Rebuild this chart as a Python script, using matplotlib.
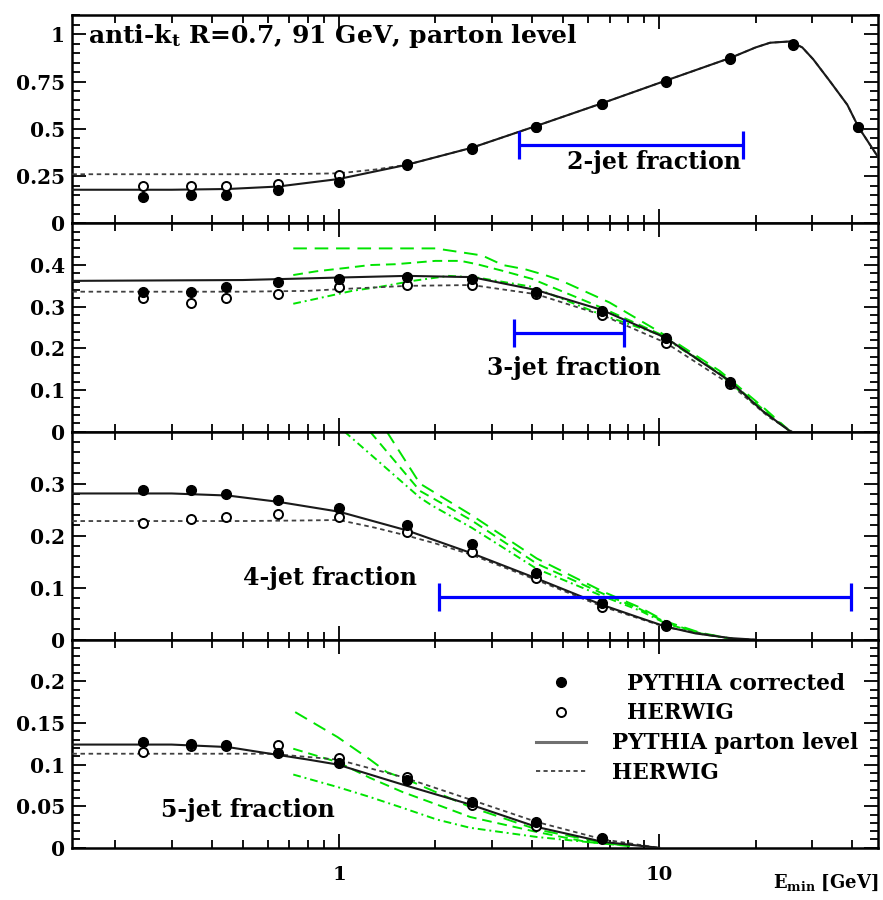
import matplotlib
matplotlib.use('Agg')
import matplotlib.pyplot as plt
from matplotlib.lines import Line2D
from matplotlib.ticker import MultipleLocator, FixedLocator, FuncFormatter, LogLocator, NullFormatter
import numpy as np

plt.rcParams['font.family'] = ['DejaVu Serif']
plt.rcParams['font.weight'] = 'bold'
plt.rcParams['mathtext.fontset'] = 'dejavuserif'
plt.rcParams['mathtext.default'] = 'bf'

# E_min values of the hadron-level points
e_pts = [0.245, 0.345, 0.445, 0.645, 1.0, 1.63, 2.6, 4.13, 6.63, 10.5, 16.7, 26.2, 41.9]

# 2-jet fraction
pyt2 = [0.14, 0.148, 0.15, 0.175, 0.218, 0.308, 0.394, 0.51, 0.63, 0.75, 0.87, 0.945, 0.51]
her2 = [0.197, 0.197, 0.197, 0.21, 0.255, 0.312, 0.397, 0.512, 0.632, 0.752, 0.872, 0.947, 0.51]
e_sol2 = [0.147, 0.3, 0.45, 0.645, 1.0, 1.63, 2.6, 4.13, 6.63, 10.5, 16.7, 20.0, 22.2, 25.7, 28.0, 30.3, 34.2, 38.7, 41.9, 48.3]
sol2 = [0.178, 0.178, 0.182, 0.195, 0.235, 0.31, 0.40, 0.515, 0.635, 0.755, 0.875, 0.93, 0.955, 0.962, 0.93, 0.867, 0.75, 0.627, 0.51, 0.35]
e_das2 = [0.147, 0.5, 0.8, 1.0, 1.3, 1.63, 2.6, 4.13, 6.63, 10.5, 16.7, 20.0, 22.2, 25.7, 28.0, 30.3, 34.2, 38.7, 41.9, 48.3]
das2 = [0.26, 0.26, 0.262, 0.265, 0.285, 0.31, 0.40, 0.515, 0.635, 0.755, 0.875, 0.93, 0.955, 0.962, 0.93, 0.867, 0.75, 0.627, 0.51, 0.35]

# 3-jet fraction
pyt3 = [0.336, 0.336, 0.348, 0.36, 0.367, 0.371, 0.367, 0.336, 0.29, 0.224, 0.119]
her3 = [0.321, 0.309, 0.321, 0.331, 0.348, 0.352, 0.352, 0.33, 0.28, 0.212, 0.115]
e_sol3 = [0.147, 0.5, 0.8, 1.0, 1.63, 2.6, 4.13, 6.63, 10.5, 16.7, 21.0, 25.7]
sol3 = [0.362, 0.364, 0.368, 0.370, 0.374, 0.371, 0.340, 0.292, 0.225, 0.12, 0.05, 0.0]
e_das3 = [0.147, 0.5, 0.8, 1.0, 1.63, 2.6, 4.13, 6.63, 10.5, 16.7, 22.0, 26.0]
das3 = [0.336, 0.336, 0.338, 0.342, 0.350, 0.352, 0.33, 0.28, 0.213, 0.113, 0.035, 0.0]
e_nlo3_hi = [0.72, 1.63, 2.0, 2.3, 2.8, 3.25, 3.81, 4.4, 4.9, 7.0, 10.0, 15.5, 21.0, 25.7]
nlo3_hi = [0.44, 0.44, 0.44, 0.433, 0.423, 0.40, 0.39, 0.376, 0.364, 0.31, 0.24, 0.145, 0.06, 0.0]
e_nlo3_mid = [0.72, 0.85, 1.05, 1.25, 1.5, 2.0, 2.4, 2.7, 3.25, 4.0, 6.5, 10.0, 15.5, 21.0, 25.7]
nlo3_mid = [0.376, 0.385, 0.393, 0.40, 0.402, 0.41, 0.41, 0.402, 0.386, 0.367, 0.30, 0.235, 0.14, 0.055, 0.0]
e_nlo3_lo = [0.72, 0.85, 1.1, 1.35, 1.7, 2.2, 2.7, 4.0, 6.5, 10.0, 15.5, 21.0, 25.7]
nlo3_lo = [0.307, 0.319, 0.338, 0.348, 0.362, 0.374, 0.37, 0.348, 0.283, 0.233, 0.138, 0.05, 0.0]

# 4-jet fraction
pyt4 = [0.288, 0.288, 0.28, 0.269, 0.254, 0.221, 0.183, 0.128, 0.071, 0.029]
her4 = [0.225, 0.231, 0.235, 0.242, 0.235, 0.206, 0.168, 0.118, 0.063, 0.027]
e_sol4 = [0.147, 0.3, 0.45, 0.645, 1.0, 1.63, 2.6, 4.13, 6.63, 8.7, 10.5, 13.0, 16.7, 20.0]
sol4 = [0.281, 0.281, 0.277, 0.265, 0.246, 0.21, 0.166, 0.118, 0.067, 0.042, 0.025, 0.012, 0.003, 0.0]
e_das4 = [0.147, 0.5, 0.75, 1.0, 1.3, 1.63, 2.0, 2.6, 4.13, 6.63, 10.5, 16.7, 20.0]
das4 = [0.228, 0.228, 0.229, 0.23, 0.215, 0.2, 0.185, 0.163, 0.115, 0.064, 0.024, 0.002, 0.0]
e_nlo4_hi = [1.41, 1.79, 1.95, 2.6, 4.15, 6.7, 8.7, 10.5, 13.5, 17.5]
nlo4_hi = [0.40, 0.30, 0.286, 0.239, 0.156, 0.092, 0.062, 0.035, 0.013, 0.0]
e_nlo4_mid = [1.25, 1.79, 1.95, 2.6, 4.15, 6.7, 8.7, 10.5, 13.5, 17.5]
nlo4_mid = [0.40, 0.286, 0.273, 0.229, 0.146, 0.088, 0.059, 0.033, 0.012, 0.0]
e_nlo4_lo = [1.04, 1.79, 1.95, 2.6, 4.15, 6.7, 8.7, 10.5, 13.5, 17.5]
nlo4_lo = [0.40, 0.273, 0.258, 0.215, 0.136, 0.083, 0.056, 0.031, 0.011, 0.0]

# 5-jet fraction
pyt5 = [0.127, 0.125, 0.123, 0.114, 0.102, 0.082, 0.055, 0.031, 0.012]
her5 = [0.115, 0.122, 0.122, 0.124, 0.108, 0.085, 0.052, 0.026, 0.01]
e_sol5 = [0.147, 0.3, 0.45, 0.61, 0.8, 0.99, 1.58, 2.57, 4.15, 6.7, 10.0]
sol5 = [0.124, 0.124, 0.121, 0.113, 0.106, 0.10, 0.076, 0.052, 0.025, 0.007, 0.0]
e_das5 = [0.147, 0.45, 0.61, 0.99, 1.58, 2.57, 4.15, 6.7, 10.0]
das5 = [0.113, 0.113, 0.113, 0.106, 0.085, 0.058, 0.031, 0.01, 0.0]
e_nlo5_hi = [0.73, 0.99, 1.25, 1.41, 1.63, 2.57, 4.15, 6.7, 8.1]
nlo5_hi = [0.163, 0.133, 0.106, 0.091, 0.082, 0.049, 0.022, 0.006, 0.002]
e_nlo5_mid = [0.72, 0.99, 1.25, 1.58, 2.02, 2.57, 4.15, 5.95, 8.1]
nlo5_mid = [0.119, 0.103, 0.084, 0.067, 0.052, 0.037, 0.019, 0.007, 0.002]
e_nlo5_lo = [0.72, 0.99, 1.25, 1.58, 2.02, 2.57, 4.15, 5.95, 8.1]
nlo5_lo = [0.088, 0.073, 0.061, 0.048, 0.034, 0.024, 0.013, 0.007, 0.003]

# blue horizontal bars: (low E, high E, height)
bar2 = (3.65, 18.3, 0.415)
bar3 = (3.52, 7.78, 0.236)
bar4 = (2.05, 39.8, 0.082)

# y tick values per panel
yt2 = [0, 0.25, 0.5, 0.75, 1]
yt3 = [0, 0.1, 0.2, 0.3, 0.4]
yt4 = [0, 0.1, 0.2, 0.3]
yt5 = [0, 0.05, 0.1, 0.15, 0.2]

xmin, xmax = 0.1466, 48.3
GREEN = '#00e400'
LINE = '#1a1a1a'

fig, axes = plt.subplots(4, 1, figsize=(8.83, 9.0), dpi=100, sharex=True)
plt.subplots_adjust(left=0.0815, right=0.9945, top=0.983, bottom=0.058, hspace=0)

panels = [
    dict(pyt=pyt2, her=her2, sol=(e_sol2, sol2), das=(e_das2, das2), nlo=None, yt=yt2,
         ylim=1.1, minor=0.05, bar=bar2, name='2-jet fraction', lab=(9.6, 0.324)),
    dict(pyt=pyt3, her=her3, sol=(e_sol3, sol3), das=(e_das3, das3),
         nlo=[(e_nlo3_hi, nlo3_hi), (e_nlo3_mid, nlo3_mid), (e_nlo3_lo, nlo3_lo)], yt=yt3,
         ylim=0.5, minor=0.02, bar=bar3, name='3-jet fraction', lab=(5.4, 0.152)),
    dict(pyt=pyt4, her=her4, sol=(e_sol4, sol4), das=(e_das4, das4),
         nlo=[(e_nlo4_hi, nlo4_hi), (e_nlo4_mid, nlo4_mid), (e_nlo4_lo, nlo4_lo)], yt=yt4,
         ylim=0.4, minor=0.02, bar=bar4, name='4-jet fraction', lab=(0.94, 0.118)),
    dict(pyt=pyt5, her=her5, sol=(e_sol5, sol5), das=(e_das5, das5),
         nlo=[(e_nlo5_hi, nlo5_hi), (e_nlo5_mid, nlo5_mid), (e_nlo5_lo, nlo5_lo)], yt=yt5,
         ylim=0.25, minor=0.01, bar=None, name='5-jet fraction', lab=(0.52, 0.046)),
]
nlo_styles = [(0, (7, 4)), (0, (5, 3)), (0, (4, 2, 1, 2))]

for ax, p in zip(axes, panels):
    ax.set_xscale('log')
    ax.set_xlim(xmin, xmax)
    ax.set_ylim(0, p['ylim'])

    if p['nlo'] is not None:
        for (ex, ey), st in zip(p['nlo'], nlo_styles):
            ax.plot(ex, ey, color=GREEN, lw=1.4, ls=st, zorder=2)

    ax.plot(p['das'][0], p['das'][1], color='#404040', lw=1.3, ls=(0, (2.5, 2)), zorder=3)
    ax.plot(p['sol'][0], p['sol'][1], color=LINE, lw=1.5, zorder=3)

    n_her = len(p['her'])
    ax.plot(e_pts[:n_her], p['her'], ls='none', marker='o', ms=6.5, mfc='white',
            mec='black', mew=1.4, zorder=4)
    n_pyt = len(p['pyt'])
    ax.plot(e_pts[:n_pyt], p['pyt'], ls='none', marker='o', ms=7, color='black', zorder=5)

    if p['bar'] is not None:
        lo, hi, yb = p['bar']
        c = np.sqrt(lo * hi)
        ax.errorbar([c], [yb], xerr=[[c - lo], [hi - c]], fmt='none', ecolor='#0000ff',
                    elinewidth=2.3, capsize=10, capthick=2.3, zorder=6)

    ax.text(p['lab'][0], p['lab'][1], p['name'], ha='center', va='center',
            fontsize=17, fontweight='bold')

    ax.yaxis.set_major_locator(FixedLocator(p['yt']))
    ax.yaxis.set_minor_locator(MultipleLocator(p['minor']))
    ax.yaxis.set_major_formatter(FuncFormatter(lambda v, pos: f'{v:g}'))
    ax.xaxis.set_minor_locator(LogLocator(base=10, subs=np.arange(2, 10)))
    ax.xaxis.set_minor_formatter(NullFormatter())
    ax.tick_params(which='both', direction='in', top=True, right=True, width=1.3)
    ax.tick_params(which='major', length=10)
    ax.tick_params(which='minor', length=5.5)
    ax.tick_params(axis='y', labelsize=14.5, pad=5)
    for s in ax.spines.values():
        s.set_linewidth(1.8)

axes[0].text(0.02, 0.90, r'anti-k$_{t}$ R=0.7, 91 GeV, parton level', transform=axes[0].transAxes,
             ha='left', va='center', fontsize=18, fontweight='bold')

ax = axes[-1]
ax.set_xticks([1, 10])
ax.set_xticklabels(['1', '10'])
ax.tick_params(axis='x', labelsize=14, pad=13)
ax.set_xlabel(r'E$_{min}$ [GeV]', fontsize=13, fontweight='bold', loc='right')
ax.xaxis.set_label_coords(1.0, -0.12)

handles = [
    Line2D([], [], ls='none', marker='o', ms=7, color='black'),
    Line2D([], [], ls='none', marker='o', ms=6.5, mfc='white', mec='black', mew=1.4),
    Line2D([], [], color='#707070', lw=2.2),
    Line2D([], [], color='#303030', lw=1.2, ls=(0, (2.5, 2))),
]
labels = ['  PYTHIA corrected', '  HERWIG', 'PYTHIA parton level', 'HERWIG']
ax.legend(handles, labels, loc='upper left', bbox_to_anchor=(0.552, 0.935), frameon=False,
          handlelength=2.3, handletextpad=1.2, labelspacing=0.36,
          prop={'weight': 'bold', 'size': 15.5})

fig.savefig('out.png', dpi=100)
